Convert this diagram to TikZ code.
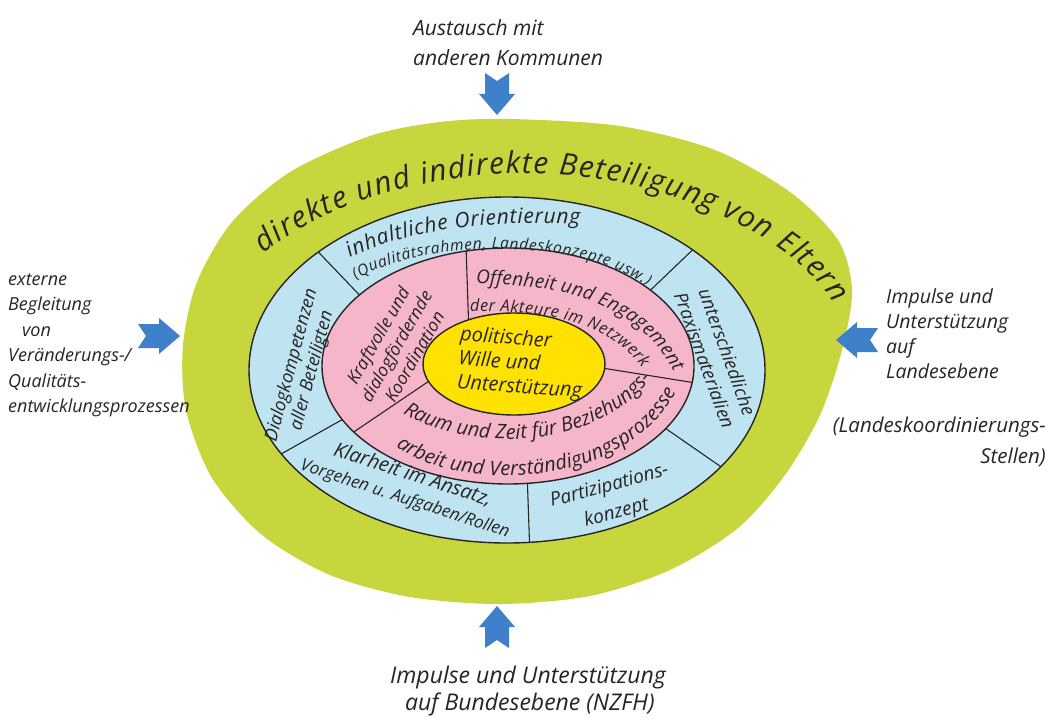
\documentclass[tikz,border=0pt]{standalone}
\usepackage{fontspec}
\setmainfont{Open Sans}
\usetikzlibrary{decorations.text}
\definecolor{ringgreen}{RGB}{199,214,60}
\definecolor{ringblue}{RGB}{190,227,241}
\definecolor{ringpink}{RGB}{245,182,202}
\definecolor{coreyellow}{RGB}{255,226,0}
\definecolor{arrowblue}{RGB}{62,128,202}
\definecolor{ink}{RGB}{40,36,34}
\newcommand\hand[2]{\fontsize{#1}{#2}\selectfont\itshape}
\begin{document}
\begin{tikzpicture}[x=1pt,y=-1pt,
  lbl/.style={text=ink,inner sep=0pt,align=left},
  ringtext/.style={text=ink,inner sep=0pt,align=center},
  curvedtext/.style={decorate,decoration={text along path,text color=ink,text align={fit to path},text={#1}}},
  outline/.style={draw=ink,line width=1.4pt},
  divider/.style={draw=ink,line width=1.1pt},
  blockarrow/.pic={\fill[arrowblue] (-21,-12) -- (0,-12) -- (0,-18) -- (21,0) -- (0,18) -- (0,12) -- (-21,12) -- (-13,0) -- cycle;}]
\useasboundingbox (0,0) rectangle (1048,719);
\fill[ringgreen] plot[smooth cycle] coordinates {(510,119) (620,126) (715,150) (790,192) (838,240) (852,290) (842,350) (820,415) (785,475) (738,528) (670,570) (590,596) (500,604) (410,597) (330,575) (262,535) (212,478) (186,410) (183,345) (197,282) (232,222) (290,172) (370,136) (440,122)};
\draw[outline,fill=ringblue] (507,370) ellipse [x radius=258,y radius=173];
\foreach \a/\b in {223/217,316/320,34/32,85/84,151/153}
  \draw[divider] ([shift={(507,370)}]\a:258 and 173) -- ([shift={(508,366)}]\b:186 and 118);
\draw[outline,fill=ringpink] (508,366) ellipse [x radius=186,y radius=118];
\foreach \a/\b in {257/240,8/5,146/160}
  \draw[divider] ([shift={(508,366)}]\a:186 and 118) -- ([shift={(514,364)}]\b:91 and 51);
\draw[outline,fill=coreyellow] (514,364) ellipse [x radius=91,y radius=51];

\path[curvedtext={|\hand{30}{31}|direkte und indirekte Beteiligung von Eltern}]
  (264,254) .. controls (360,175) and (560,140) .. (720,215) .. controls (770,238) and (810,265) .. (834,304);
\path[curvedtext={|\hand{21}{22}|inhaltliche Orientierung}]
  (350,258) .. controls (400,232) and (480,220) .. (580,224);
\path[curvedtext={|\hand{15.5}{16}|(Qualitätsrahmen, Landeskonzepte usw.)}]
  (356,280) .. controls (420,240) and (575,235) .. (647,286);
\path[curvedtext={|\hand{19}{20}|Offenheit und Engagement}]
  (476,284) .. controls (552,285) and (634,296) .. (674,372);
\path[curvedtext={|\hand{16.5}{18}|der Akteure im Netzwerk}]
  (470,312) .. controls (535,310) and (606,318) .. (642,368);
\path[curvedtext={|\hand{20}{21}|Raum und Zeit für Beziehungs-}]
  (403,413) .. controls (460,450) and (590,455) .. (650,380);
\path[curvedtext={|\hand{20}{21}|arbeit und Verständigungsprozesse}]
  (396,446) .. controls (450,490) and (620,495) .. (676,392);

\node[ringtext,font=\hand{18}{21},rotate=75] (dialog) at (302,368) {Dialogkompetenzen\\aller Beteiligten};
\node[ringtext,font=\hand{18.5}{24},rotate=-70] (praxis) at (716,356) {unterschiedliche\\Praxismaterialien};
\node[ringtext,font=\hand{17}{24},rotate=-18] (klarheit) at (409,487) {{\hand{20}{24}Klarheit im Ansatz,}\\Vorgehen u. Aufgaben/Rollen};
\node[ringtext,font=\hand{19}{28},rotate=15] (partizipation) at (613,500) {Partizipations-\\konzept};
\node[ringtext,font=\hand{17.5}{21},rotate=60] (kraftvoll) at (396,346) {Kraftvolle und\\dialogfördernde\\Koordination};
\node[lbl,font=\hand{20}{24},rotate=-4] (core) at (521,364) {politischer\\Wille und\\Unterstützung};

\node[lbl,font=\hand{21}{30},anchor=north west] (lblTop) at (413,19) {Austausch mit\\anderen Kommunen};
\node[lbl,font=\hand{18}{25.5},anchor=north west] (lblLeft) at (8,273) {externe\\Begleitung\\\hspace*{14pt}von\\Veränderungs-/\\Qualitäts-\\entwicklungsprozessen};
\node[lbl,font=\hand{19.5}{25},anchor=north west] (lblRight) at (886,288) {Impulse und\\Unterstützung\\auf\\Landesebene};
\node[lbl,font=\hand{20.5}{31},anchor=north east,align=right] (lblRightSub) at (1046,417) {(Landeskoordinierungs-\\Stellen)};
\node[lbl,font=\hand{23}{27},anchor=north west] (lblBottom) at (390,666) {Impulse und Unterstützung\\\hspace*{15pt}auf Bundesebene (NZFH)};

\pic[rotate=-90] at (497,94) {blockarrow};
\pic at (159,336) {blockarrow};
\pic[rotate=180] at (857,340) {blockarrow};
\pic[rotate=90] at (497,627) {blockarrow};
\end{tikzpicture}
\end{document}
